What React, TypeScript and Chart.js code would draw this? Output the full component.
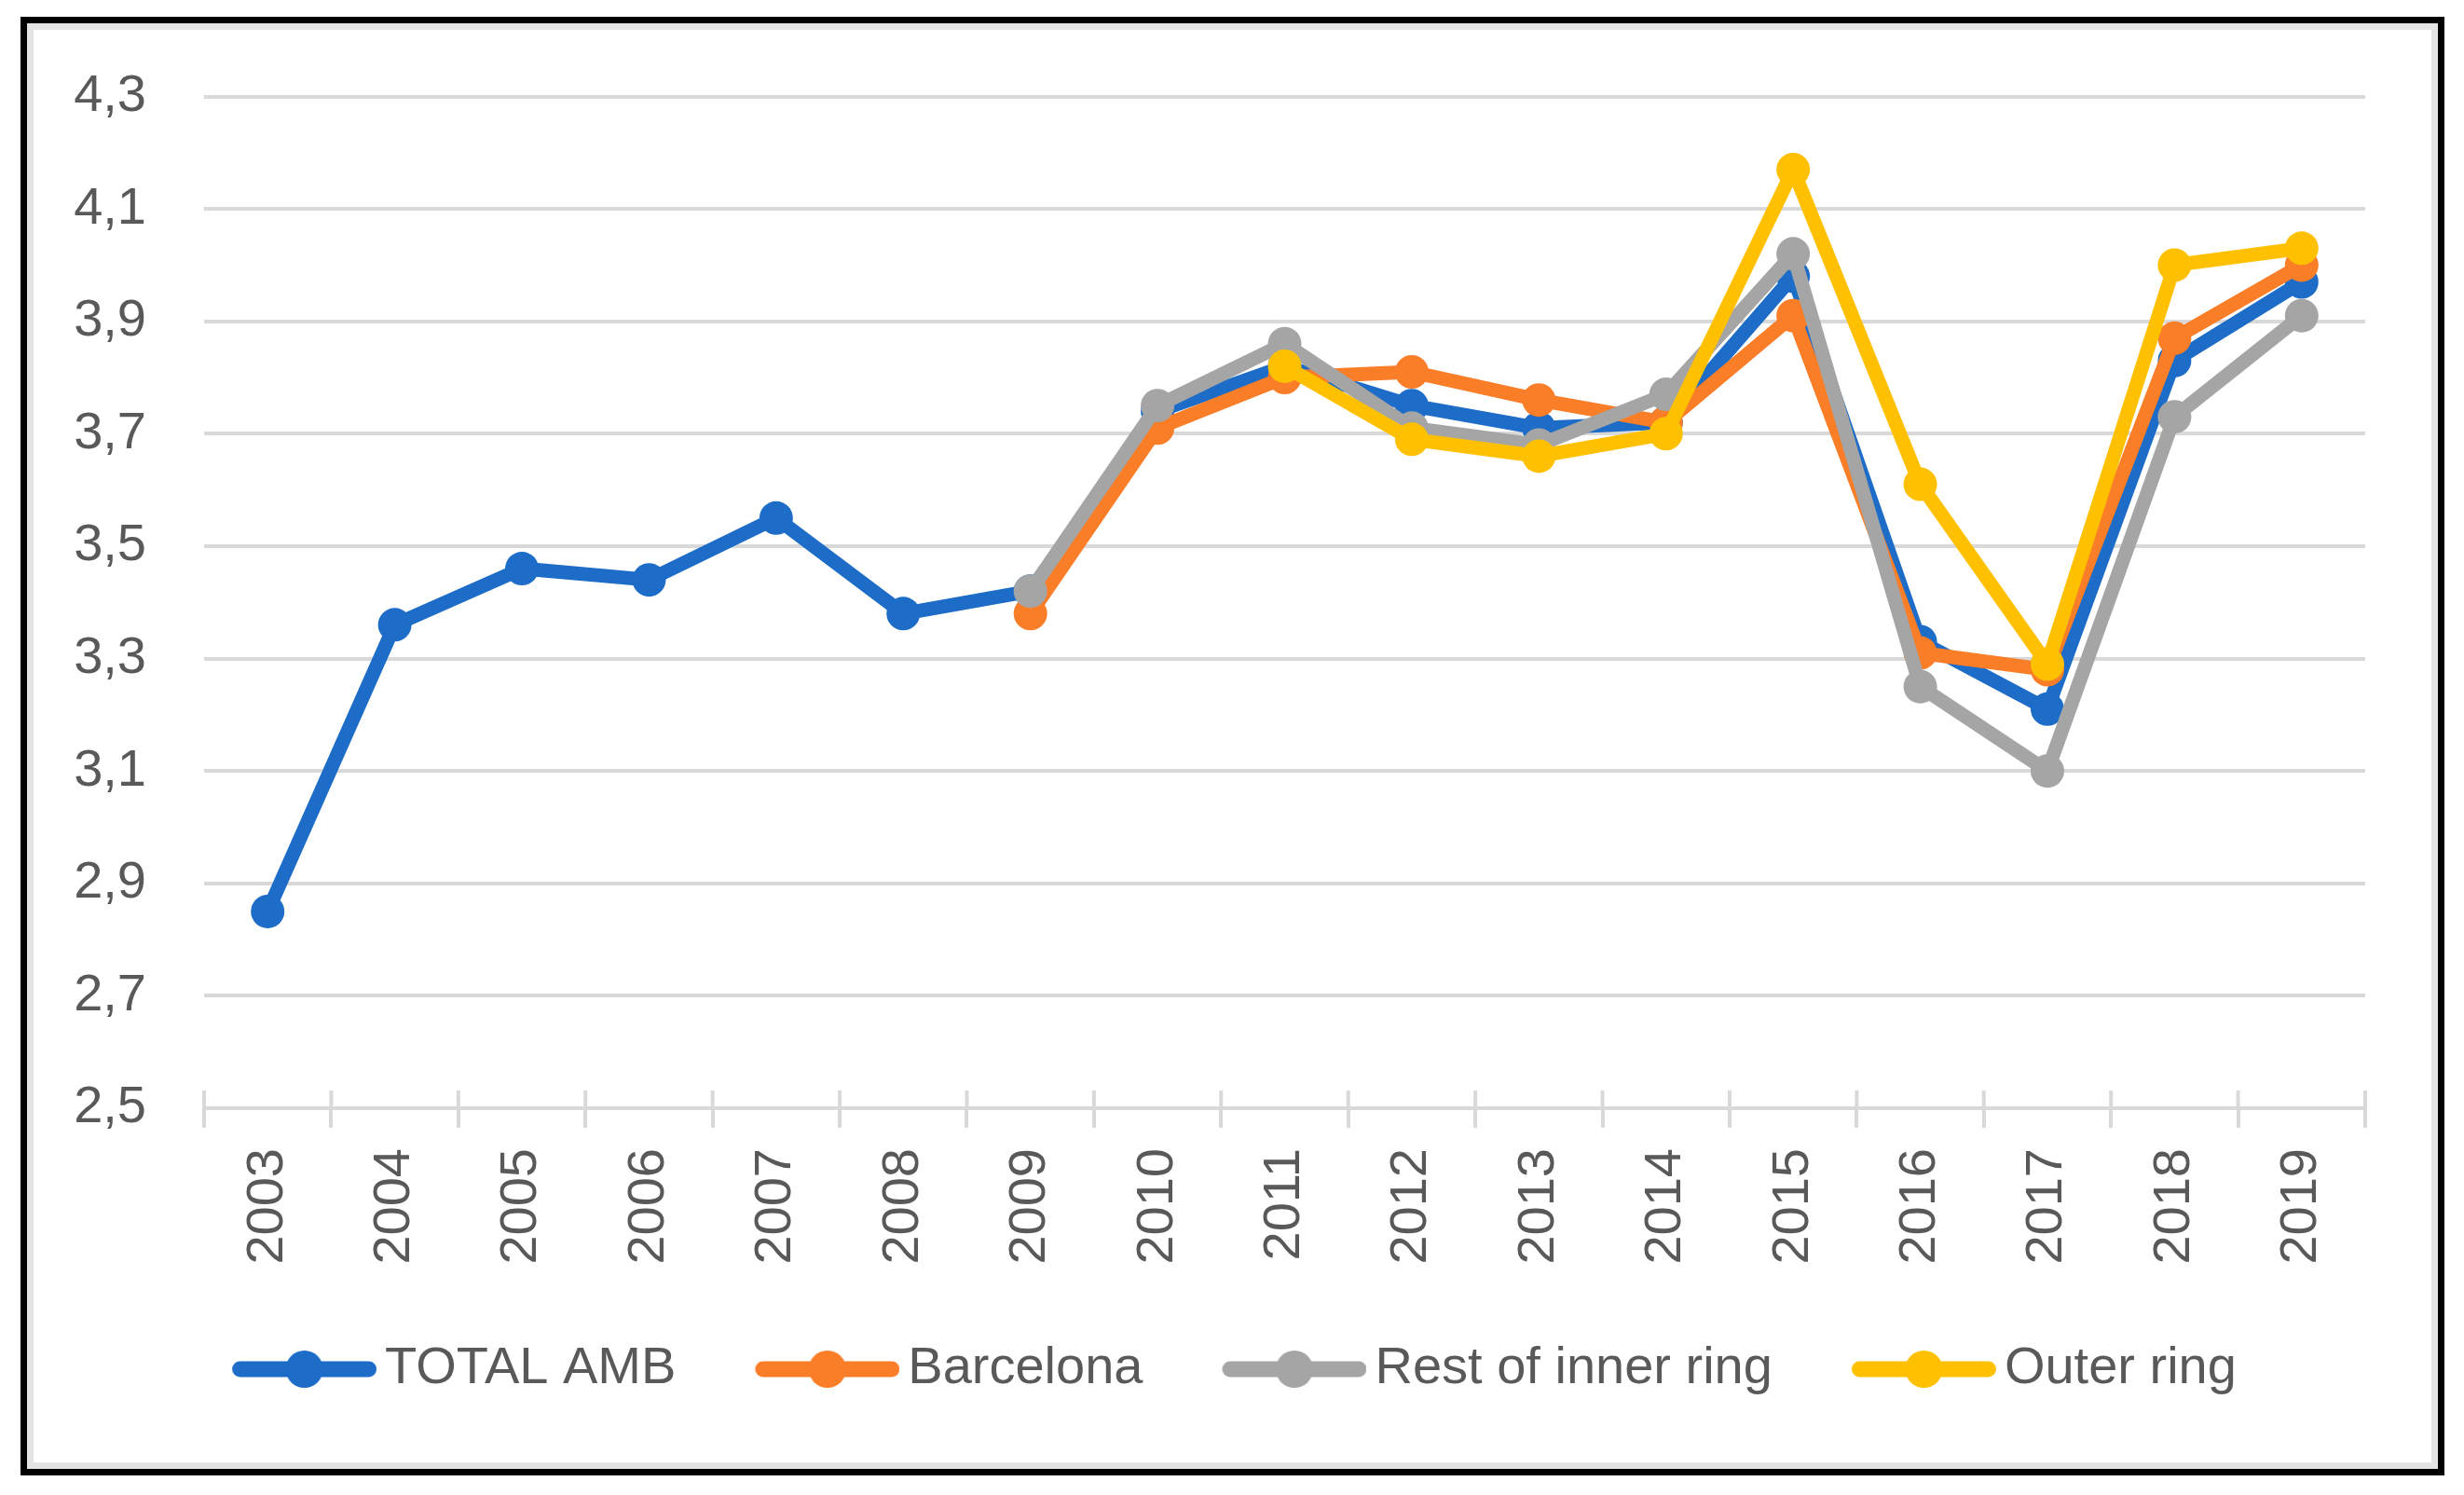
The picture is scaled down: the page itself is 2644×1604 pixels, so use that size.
import React, { useEffect, useRef } from 'react';
import { Chart, registerables } from 'chart.js';

Chart.register(...registerables);

const years = ['2003', '2004', '2005', '2006', '2007', '2008', '2009', '2010', '2011', '2012', '2013', '2014', '2015', '2016', '2017', '2018', '2019'];
const totalAmb = [2.85, 3.36, 3.46, 3.44, 3.55, 3.38, 3.42, 3.74, 3.82, 3.75, 3.71, 3.72, 3.98, 3.33, 3.21, 3.83, 3.97];
const barcelona = [null, null, null, null, null, null, 3.38, 3.71, 3.80, 3.81, 3.76, 3.72, 3.91, 3.31, 3.28, 3.87, 4.00];
const restInner = [null, null, null, null, null, null, 3.42, 3.75, 3.86, 3.71, 3.68, 3.77, 4.02, 3.25, 3.10, 3.73, 3.91];
const outerRing = [null, null, null, null, null, null, null, null, 3.82, 3.69, 3.66, 3.70, 4.17, 3.61, 3.29, 4.00, 4.03];
const seriesNames = ['TOTAL AMB', 'Barcelona', 'Rest of inner ring', 'Outer ring'];
const seriesColors = ['#1C6CC8', '#FA7D28', '#A5A5A5', '#FFC000'];
const yMin = 2.5;
const yMax = 4.3;
const yStep = 0.2;

const FONT = 'Liberation Sans';
const TEXT = '#595959';
const GRID = '#d9d9d9';

// legend marker: transparent margin on the left, then line + circle
const MARK_W = 235;
const MARK_VIS = 155;
function makeMarker(color: string): HTMLCanvasElement {
  const c = document.createElement('canvas');
  c.width = MARK_W;
  c.height = 44;
  const ctx = c.getContext('2d')!;
  const x0 = MARK_W - MARK_VIS;
  ctx.strokeStyle = color;
  ctx.lineWidth = 17;
  ctx.lineCap = 'round';
  ctx.beginPath();
  ctx.moveTo(x0 + 8.5, 22);
  ctx.lineTo(x0 + MARK_VIS - 8.5, 22);
  ctx.stroke();
  ctx.fillStyle = color;
  ctx.beginPath();
  ctx.arc(x0 + MARK_VIS / 2, 22, 20, 0, Math.PI * 2);
  ctx.fill();
  return c;
}

const crossTicks = {
  id: 'crossTicks',
  beforeDatasetsDraw(chart: any) {
    const x = chart.scales.x;
    const bottom = chart.chartArea.bottom;
    const ctx = chart.ctx;
    ctx.save();
    ctx.strokeStyle = GRID;
    ctx.lineWidth = 4;
    for (let i = 0; i <= years.length; i++) {
      const px = x.getPixelForValue(i - 0.5);
      ctx.beginPath();
      ctx.moveTo(px, bottom - 19);
      ctx.lineTo(px, bottom);
      ctx.stroke();
    }
    ctx.restore();
  },
};

export default function App() {
  const ref = useRef<HTMLCanvasElement | null>(null);

  useEffect(() => {
    if (!ref.current) return;
    const series = [totalAmb, barcelona, restInner, outerRing];
    const markers = seriesColors.map(makeMarker);
    const chart = new Chart(ref.current, {
      type: 'line',
      data: {
        labels: years,
        datasets: series.map((d, i) => ({
          label: seriesNames[i],
          data: d,
          borderColor: seriesColors[i],
          backgroundColor: seriesColors[i],
          pointBackgroundColor: seriesColors[i],
          pointBorderColor: seriesColors[i],
          borderWidth: 15,
          pointRadius: 18,
          pointBorderWidth: 0,
          borderJoinStyle: 'round' as const,
          borderCapStyle: 'round' as const,
          spanGaps: false,
          order: 4 - i,
        })),
      },
      options: {
        responsive: false,
        animation: false,
        devicePixelRatio: 1,
        layout: { padding: { left: 50, right: 106, top: 103.5, bottom: 97 } },
        plugins: {
          tooltip: { enabled: false },
          legend: {
            position: 'bottom',
            labels: {
              usePointStyle: true,
              pointStyleWidth: MARK_W - 38,
              padding: 24,
              color: TEXT,
              font: { family: FONT, size: 56 },
              generateLabels: () =>
                seriesNames.map((n, i) => ({
                  text: n,
                  fillStyle: seriesColors[i],
                  strokeStyle: seriesColors[i],
                  lineWidth: 0,
                  pointStyle: markers[i],
                  hidden: false,
                  datasetIndex: i,
                  fontColor: TEXT,
                })),
            },
          },
        },
        scales: {
          x: {
            offset: true,
            grid: {
              offset: true,
              drawOnChartArea: false,
              drawTicks: true,
              tickLength: 21,
              tickWidth: 4,
              tickColor: GRID,
              color: GRID,
              lineWidth: 4,
            },
            border: { display: true, color: GRID, width: 4 },
            ticks: {
              autoSkip: false,
              minRotation: 90,
              maxRotation: 90,
              padding: 22,
              color: TEXT,
              font: { family: FONT, size: 56 },
            },
            afterFit: (s: any) => {
              s.height = 228;
            },
          },
          y: {
            min: yMin,
            max: yMax,
            grid: { color: GRID, lineWidth: 4, drawTicks: false },
            border: { display: false },
            ticks: {
              stepSize: yStep,
              padding: 62,
              color: TEXT,
              font: { family: FONT, size: 56 },
              callback: (v: any) => Number(v).toFixed(1).replace('.', ','),
            },
            afterFit: (s: any) => {
              s.width = 169;
            },
          },
        },
      },
      plugins: [crossTicks],
    } as any);
    return () => chart.destroy();
  }, []);

  return (
    <div style={{ position: 'fixed', left: 0, top: 0, width: 2644, height: 1604, background: '#ffffff', overflow: 'hidden' }}>
      <div
        style={{
          position: 'absolute',
          left: 22,
          top: 18,
          width: 2601,
          height: 1565,
          boxSizing: 'border-box',
          border: '7px solid #000000',
          boxShadow: 'inset 0 0 0 7px #e4e4e4',
        }}
      />
      <canvas ref={ref} width={2644} height={1604} style={{ position: 'absolute', left: 0, top: 0, width: 2644, height: 1604 }} />
    </div>
  );
}
